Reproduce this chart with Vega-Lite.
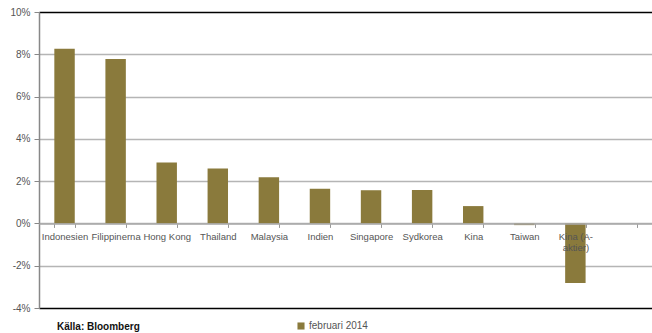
{
  "$schema": "https://vega.github.io/schema/vega-lite/v6.json",
  "width": 613,
  "height": 296,
  "autosize": {"type": "none"},
  "padding": {"left": 39, "top": 12, "right": 0, "bottom": 25},
  "background": "white",
  "title": {
    "text": "Källa: Bloomberg",
    "orient": "bottom",
    "anchor": "start",
    "frame": "group",
    "dx": 18,
    "offset": -9,
    "fontSize": 10,
    "fontWeight": "bold",
    "font": "Liberation Sans",
    "color": "#111"
  },
  "data": {
    "values": [
      {"land": "Indonesien", "v": 8.26, "serie": "februari 2014"},
      {"land": "Filippinerna", "v": 7.78, "serie": "februari 2014"},
      {"land": "Hong Kong", "v": 2.88, "serie": "februari 2014"},
      {"land": "Thailand", "v": 2.6, "serie": "februari 2014"},
      {"land": "Malaysia", "v": 2.18, "serie": "februari 2014"},
      {"land": "Indien", "v": 1.64, "serie": "februari 2014"},
      {"land": "Singapore", "v": 1.57, "serie": "februari 2014"},
      {"land": "Sydkorea", "v": 1.58, "serie": "februari 2014"},
      {"land": "Kina", "v": 0.82, "serie": "februari 2014"},
      {"land": "Taiwan", "v": -0.08, "serie": "februari 2014"},
      {"land": "Kina (A-aktier)", "v": -2.82, "serie": "februari 2014"}
    ]
  },
  "mark": {"type": "bar"},
  "encoding": {
    "x": {
      "field": "land",
      "type": "nominal",
      "sort": null,
      "scale": {
        "domain": ["Indonesien", "Filippinerna", "Hong Kong", "Thailand", "Malaysia", "Indien", "Singapore", "Sydkorea", "Kina", "Taiwan", "Kina (A-aktier)", ""],
        "paddingInner": 0.6,
        "paddingOuter": 0.3
      },
      "axis": {
        "title": null,
        "offset": -84.57,
        "labelAngle": 0,
        "labelExpr": "datum.value == 'Kina (A-aktier)' ? ['Kina (A-', 'aktier)'] : datum.value",
        "labelFont": "Liberation Sans",
        "labelFontSize": 9.5,
        "labelColor": "#555",
        "labelPadding": 4,
        "labelLineHeight": 11,
        "domainColor": "#aaa",
        "domainWidth": 1.5,
        "tickColor": "#999",
        "tickSize": 4,
        "tickBand": "extent",
        "grid": false,
        "zindex": 1
      }
    },
    "y": {
      "field": "v",
      "type": "quantitative",
      "scale": {"domain": [-4, 10], "nice": false, "zero": false},
      "axis": {
        "title": null,
        "values": [-4, -2, 0, 2, 4, 6, 8, 10],
        "labelExpr": "datum.value + '%'",
        "labelFont": "Liberation Sans",
        "labelFontSize": 10,
        "labelColor": "#555",
        "labelPadding": 4,
        "domainColor": "#888",
        "domainWidth": 1.5,
        "tickColor": "#888",
        "tickSize": 5,
        "grid": true,
        "gridColor": {"condition": {"test": "datum.value == 10 || datum.value == -4", "value": "#000"}, "value": "#b5b5b5"},
        "gridWidth": 1.5
      }
    },
    "color": {
      "field": "serie",
      "type": "nominal",
      "scale": {"range": ["#8a7a3c"]},
      "legend": {
        "title": null,
        "orient": "none",
        "legendX": 257,
        "legendY": 309,
        "symbolType": "square",
        "symbolSize": 50,
        "symbolStrokeWidth": 0,
        "labelFont": "Liberation Sans",
        "labelFontSize": 10,
        "labelColor": "#555",
        "labelOffset": 3
      }
    }
  },
  "config": {"view": {"stroke": null}}
}
